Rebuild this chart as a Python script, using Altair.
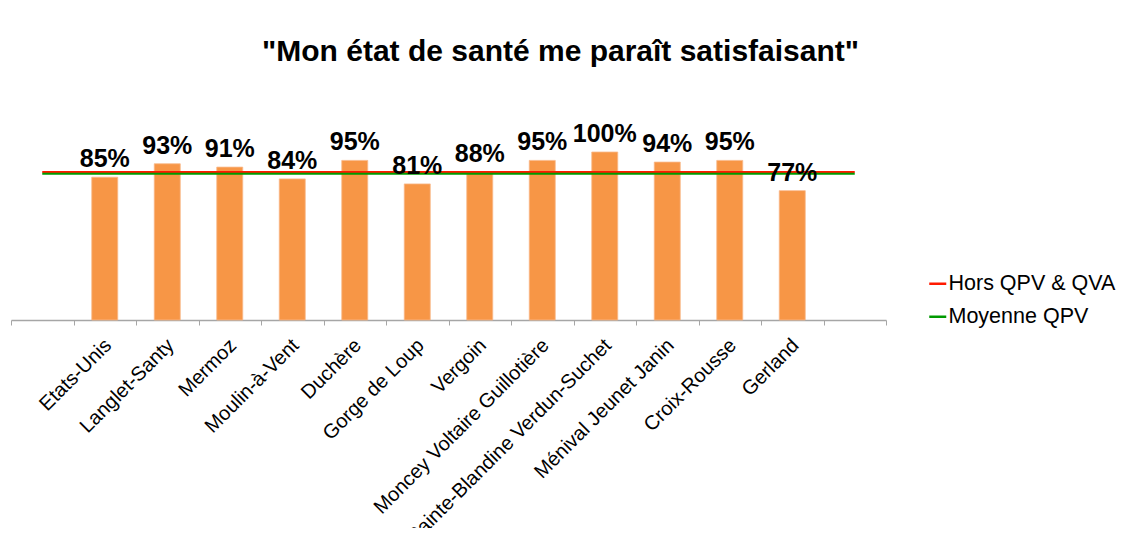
import altair as alt
import pandas as pd

# ---- data ----
categories = ["Etats-Unis", "Langlet-Santy", "Mermoz", "Moulin-à-Vent", "Duchère",
              "Gorge de Loup", "Vergoin", "Moncey Voltaire Guillotière",
              "Sainte-Blandine Verdun-Suchet", "Ménival Jeunet Janin",
              "Croix-Rousse", "Gerland"]
values = [0.85, 0.93, 0.91, 0.84, 0.95, 0.81, 0.88, 0.95, 1.00, 0.94, 0.95, 0.77]
ref_names = ["Hors QPV & QVA", "Moyenne QPV"]
ref_values = [0.881, 0.871]
ref_colors = ["#FF1A00", "#009A00"]
blank_start, blank_end = "_start", "_end"

title_text = '"Mon état de santé me paraît satisfaisant"'
FONT = "Liberation Sans"

domain = [blank_start] + categories + [blank_end]

bars_df = pd.DataFrame({"cat": categories, "val": values})
refs_rows = []
for n, v in zip(ref_names, ref_values):
    refs_rows.append({"series": n, "val": v, "cat": blank_start})
    refs_rows.append({"series": n, "val": v, "cat": blank_end})
refs_df = pd.DataFrame(refs_rows)

xscale = alt.Scale(domain=domain, paddingInner=0, paddingOuter=0)
xaxis = alt.Axis(title=None, labelAngle=-45, labelAlign="right", labelBaseline="middle",
                 labelFont=FONT, labelFontSize=20, labelColor="black",
                 labelOverlap=False, labelLimit=500, labelPadding=17, labelOffset=3,
                 tickBand="extent", tickSize=5, tickColor="#a6a6a6",
                 domainColor="#a6a6a6", domainWidth=1.3, grid=False,
                 labelExpr="(datum.value == '_start' || datum.value == '_end') ? '' : datum.value")
yscale = alt.Scale(domain=[0, 1], nice=False, zero=True)

base_bars = alt.Chart(bars_df).encode(
    x=alt.X("cat:N", scale=xscale, axis=xaxis),
    y=alt.Y("val:Q", scale=yscale, axis=None),
)
bars = base_bars.mark_bar(color="#F79646", size=26, stroke="#F9B98A", strokeWidth=0.8)
labels = base_bars.mark_text(baseline="alphabetic", dy=-10, font=FONT, fontSize=25,
                             fontWeight="bold", color="black").encode(
    text=alt.Text("val:Q", format=".0%"))

rules = alt.Chart(refs_df).mark_line(strokeWidth=2).encode(
    x=alt.X("cat:N", scale=xscale, axis=xaxis),
    y=alt.Y("val:Q", scale=yscale, axis=None),
    color=alt.Color("series:N",
                    scale=alt.Scale(domain=ref_names, range=ref_colors),
                    legend=alt.Legend(orient="none", legendX=916, legendY=121, title=None,
                                      symbolType="stroke", symbolSize=289,
                                      symbolStrokeWidth=2.5, labelFont=FONT,
                                      labelFontSize=21.5, labelColor="black",
                                      labelLimit=400,
                                      rowPadding=10, labelOffset=0)),
)

chart = alt.layer(bars, rules, labels).properties(
    width=875, height=168,
    title=alt.Title(title_text, font=FONT, fontSize=30, fontWeight="bold",
                    color="black", anchor="middle", dx=112, dy=-51),
    autosize=alt.AutoSizeParams(type="none"),
    padding={"left": 3, "top": 144, "right": 234, "bottom": 208},
).configure_view(stroke=None)

chart.save("out.html", embed_options={"renderer": "svg", "actions": False})
